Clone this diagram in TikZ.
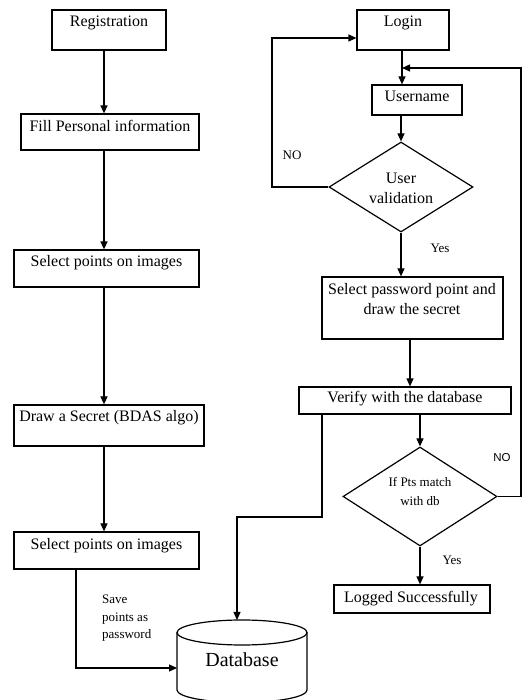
\documentclass[tikz,border=0pt]{standalone}
\usepackage{fontspec}
\setmainfont{Liberation Serif}
\newfontfamily\arialf{Liberation Sans}
\usetikzlibrary{arrows.meta,shapes.geometric,calc}
\begin{document}
\begin{tikzpicture}[x=1pt,y=1pt,
  box/.style={draw, line width=1.2pt, inner sep=0pt},
  dia/.style={draw, diamond, line width=1.2pt, inner sep=0pt},
  txt/.style={inner sep=0pt, font=\fontsize{16}{20}\selectfont},
  small/.style={inner sep=0pt, font=\fontsize{13}{18}\selectfont},
  arr/.style={line width=1.2pt, -{Triangle[length=8pt,width=7pt]}},
  ln/.style={line width=1.2pt}]
\useasboundingbox (0,0) rectangle (522,700);

% left column boxes
\node[box, minimum width=114pt, minimum height=40pt] (reg) at (109,670) {};
\node[txt, anchor=base] (regt) at (109,673) {Registration};
\node[box, minimum width=178pt, minimum height=36pt] (fill) at (110,568) {};
\node[txt, anchor=base] (fillt) at (110,568) {Fill Personal information};
\node[box, minimum width=185pt, minimum height=37pt] (sel1) at (106.5,431.5) {};
\node[txt, anchor=base] (sel1t) at (106.5,433) {Select points on images};
\node[box, minimum width=190pt, minimum height=41pt] (das) at (109,274.5) {};
\node[txt, anchor=base] (dast) at (109,278) {Draw a Secret (BDAS algo)};
\node[box, minimum width=185pt, minimum height=37pt] (sel2) at (106.5,149.5) {};
\node[txt, anchor=base] (sel2t) at (106.5,150) {Select points on images};
\node[small, anchor=north west, align=left, font=\fontsize{13}{17.5}\selectfont] (save) at (102,105) {Save\\points as\\password};

% database
\draw[ln] (177,67.5) -- (177,10) arc[start angle=180, end angle=360, x radius=65pt, y radius=12.5pt] -- (307,67.5);
\draw[ln] (242,67.5) ellipse [x radius=65pt, y radius=12.5pt];
\node[inner sep=0pt, font=\fontsize{20}{24}\selectfont] (db) at (242,40) {Database};
\coordinate (dbtop) at (237,80);
\coordinate (dbleft) at (177,32);

% right column
\node[box, minimum width=92pt, minimum height=40pt] (login) at (403,670) {};
\node[txt, anchor=base] (logint) at (403,673) {Login};
\node[box, minimum width=90pt, minimum height=30pt] (user) at (417,600) {};
\node[txt, anchor=base] (usert) at (417,598) {Username};
\node[dia, minimum width=144pt, minimum height=90pt] (d1) at (401,513) {};
\node[txt, align=center] (d1t) at (401,512) {User\\validation};
\node[box, minimum width=181pt, minimum height=62pt] (pw) at (412.5,392) {};
\node[txt, anchor=base] (pwt1) at (412,405) {Select password point and};
\node[txt, anchor=base] (pwt2) at (412,385) {draw the secret};
\node[box, minimum width=212pt, minimum height=27pt] (ver) at (405,299.5) {};
\node[txt, anchor=base] (vert) at (405,297) {Verify with the database};
\node[dia, minimum width=154pt, minimum height=99pt] (d2) at (420,203.5) {};
\node[small, anchor=base] (d2t1) at (420,213) {If Pts match};
\node[small, anchor=base] (d2t2) at (420,194) {with db};
\node[box, minimum width=156pt, minimum height=28pt] (logged) at (412,101) {};
\node[txt, anchor=base] (loggedt) at (411,97) {Logged Successfully};

% labels
\node[small] (no1) at (292,545) {NO};
\node[small] (yes1) at (440,452) {Yes};
\node[inner sep=0pt, font=\arialf\fontsize{11.5}{14}\selectfont] (no2) at (502,242) {NO};
\node[small] (yes2) at (452,140) {Yes};

% column coordinates
\coordinate (cL) at (104,0);
\coordinate (sv) at (76,0);
\coordinate (cR) at (402,0);
\coordinate (c410) at (410,0);
\coordinate (noc) at (272,662);
\coordinate (rc) at (521,632);
\coordinate (vb) at (322,183);

% left connectors
\draw[arr] (reg.south -| cL) -- (fill.north -| cL);
\draw[arr] (fill.south -| cL) -- (sel1.north -| cL);
\draw[arr] (sel1.south -| cL) -- (das.north -| cL);
\draw[arr] (das.south -| cL) -- (sel2.north -| cL);
\draw[arr] (sel2.south -| sv) |- (dbleft);

% right connectors
\draw[arr] (login.south -| cR) -- (user.north -| cR);
\draw[arr] (user.south -| d1) -- (d1.north);
\draw[arr] (d1.south) -- (pw.north -| d1);
\draw[arr] (pw.south -| c410) -- (ver.north -| c410);
\draw[arr] (ver.south -| d2) -- (d2.north);
\draw[arr] (d2.south) -- (logged.north -| d2);
\draw[arr] (d1.west) -| (noc) -- ([yshift=-8pt]login.west);
\draw[arr] (d2.east) -| (rc) -- (rc -| cR);
\draw[arr] (ver.south -| vb) -- (vb) -| (dbtop);
\end{tikzpicture}
\end{document}
